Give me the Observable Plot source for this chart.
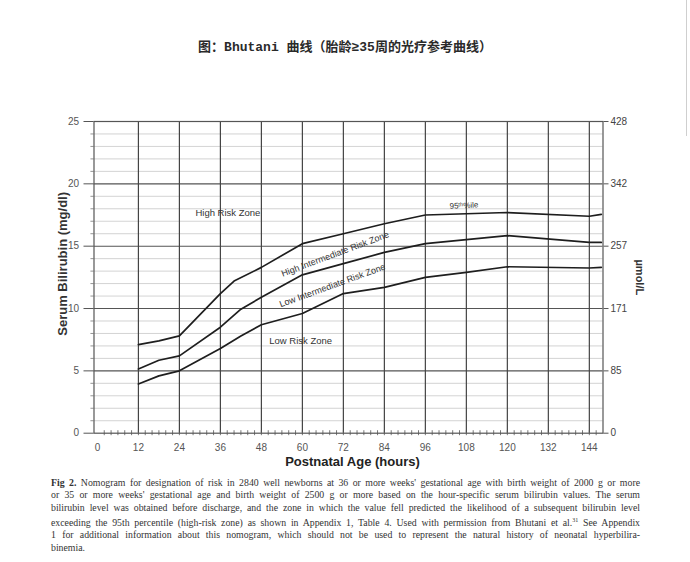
<!DOCTYPE html>
<html>
<head>
<meta charset="utf-8">
<script src="https://cdn.jsdelivr.net/npm/d3@7"></script>
<script src="https://cdn.jsdelivr.net/npm/@observablehq/plot@0.6"></script>
<style>
  html, body { margin: 0; padding: 0; background: #fff; }
  body { width: 690px; height: 562px; position: relative; overflow: hidden; font-family: "Liberation Sans", Arial, sans-serif; }
  #title { position: absolute; top: 40px; left: 0; width: 690px; text-align: center; font: bold 13px/16px "Liberation Mono", "Noto Sans CJK SC", monospace; color: #2a2a2a; }
  #chart { position: absolute; top: 100px; left: 0; }
  #caption { position: absolute; top: 477px; left: 51px; width: 589px; font: 9.8px/12.3px "Liberation Serif", "Times New Roman", serif; color: #333; }
  #caption div { text-align: justify; text-align-last: justify; }
  #caption div.last { text-align-last: left; }
  #edge { position: absolute; left: 686px; top: 0; width: 1px; height: 136px; background: #cfcfcf; }
</style>
</head>
<body>
<div id="title">图：Bhutani 曲线（胎龄≥35周的光疗参考曲线）</div>
<div id="chart"></div>
<div id="caption"></div>
<div id="edge"></div>
<script>
// ---- data ----
const hourTicks = [0, 12, 24, 36, 48, 60, 72, 84, 96, 108, 120, 132, 144];
const mgTicks = [0, 5, 10, 15, 20, 25];
const umolLabels = ["0", "85", "171", "257", "342", "428"];

const p95Hours = [12, 18, 24, 36, 40, 48, 60, 72, 84, 96, 120, 144, 147.5];
const p95Values = [7.1, 7.4, 7.8, 11.2, 12.2, 13.3, 15.2, 16.0, 16.8, 17.5, 17.7, 17.4, 17.55];

const p75Hours = [12, 18, 24, 36, 42, 48, 60, 72, 84, 96, 120, 144, 147.5];
const p75Values = [5.15, 5.85, 6.2, 8.5, 9.95, 10.9, 12.7, 13.6, 14.5, 15.2, 15.85, 15.3, 15.3];

const p40Hours = [12, 18, 24, 36, 42, 48, 60, 72, 84, 96, 108, 120, 144, 147.5];
const p40Values = [3.95, 4.6, 5.0, 6.8, 7.8, 8.7, 9.6, 11.2, 11.7, 12.5, 12.9, 13.35, 13.25, 13.3];

const zoneLabels = [
  {text: "High Risk Zone", h: 38.2, v: 17.64, angle: 0, size: 9.5},
  {text: "95ᵗʰ%ile", h: 107.3, v: 18.26, angle: -3, size: 8},
  {text: "High Intermediate Risk Zone", h: 69.6, v: 14.37, angle: -20.5, size: 9},
  {text: "Low Intermediate Risk Zone", h: 68.8, v: 11.85, angle: -20, size: 9},
  {text: "Low Risk Zone", h: 59.5, v: 7.43, angle: 0, size: 9.5}
];

const captionLines = [
  "<b>Fig 2.</b> Nomogram for designation of risk in 2840 well newborns at 36 or more weeks' gestational age with birth weight of 2000 g or more",
  "or 35 or more weeks' gestational age and birth weight of 2500 g or more based on the hour-specific serum bilirubin values. The serum",
  "bilirubin level was obtained before discharge, and the zone in which the value fell predicted the likelihood of a subsequent bilirubin level",
  "exceeding the 95th percentile (high-risk zone) as shown in Appendix 1, Table 4. Used with permission from Bhutani et al.<sup style=\"font-size:6px\">31</sup> See Appendix",
  "1 for additional information about this nomogram, which should not be used to represent the natural history of neonatal hyperbilira-",
  "binemia."
];

// ---- build ----
const rows = (hs, vs, s) => hs.map((h, i) => ({h, v: vs[i], s}));
const curves = [
  ...rows(p95Hours, p95Values, "p95"),
  ...rows(p75Hours, p75Values, "p75"),
  ...rows(p40Hours, p40Values, "p40")
];
const minorY = d3.range(1, 25).filter(v => v % 5 !== 0);
const majorY = [5, 10, 15, 20];
const gridX = hourTicks.filter(h => h > 0);
const smallTicksX = d3.range(2, 148, 2);

const chart = Plot.plot({
  width: 690,
  height: 376,
  marginTop: 21,
  marginBottom: 43.3,
  marginLeft: 93.5,
  marginRight: 87.5,
  x: {domain: [-1, 148]},
  y: {domain: [0, 25]},
  style: {background: "transparent", fontFamily: "Liberation Sans, Arial, sans-serif"},
  marks: [
    Plot.ruleY(minorY, {stroke: "#c8c8c8", strokeWidth: 0.8}),
    Plot.ruleY(minorY, {x1: -1.9, x2: -1, stroke: "#777", strokeWidth: 0.8}),
    Plot.ruleY(majorY, {stroke: "#555", strokeWidth: 1.1}),
    Plot.ruleX(gridX, {stroke: "#444", strokeWidth: 1.2}),
    Plot.ruleX(smallTicksX, {y1: -0.2, y2: 0.2, stroke: "#555", strokeWidth: 0.8}),
    Plot.frame({stroke: "#555", strokeWidth: 1.2}),
    Plot.axisX({ticks: hourTicks, tickSize: 0, tickPadding: 11, fontSize: 10, fill: "#555", label: null}),
    Plot.axisY({anchor: "left", ticks: mgTicks, tickSize: 10, tickPadding: 5, fontSize: 10, fill: "#555", stroke: "#555", label: null}),
    Plot.axisY({anchor: "right", ticks: mgTicks, tickFormat: d => umolLabels[mgTicks.indexOf(d)], tickSize: 5, tickPadding: 2.5, fontSize: 10, fill: "#444", stroke: "#555", label: null}),
    Plot.line(curves, {x: "h", y: "v", z: "s", stroke: "#1e1e1e", strokeWidth: 1.7, curve: "linear"}),
    ...zoneLabels.map(d => Plot.text([d], {x: "h", y: "v", text: "text", rotate: d.angle, fontSize: d.size, fill: "#333"})),
    Plot.text(["Serum Bilirubin (mg/dl)"], {frameAnchor: "left", textAnchor: "middle", dx: -31.5, dy: -13.5, rotate: -90, fontSize: 13, fontWeight: "bold", fill: "#333"}),
    Plot.text(["µmol/L"], {frameAnchor: "right", textAnchor: "middle", dx: 36.5, dy: 0, rotate: 90, fontSize: 11, fontWeight: "bold", fill: "#333"}),
    Plot.text(["Postnatal Age (hours)"], {frameAnchor: "bottom", dx: 4, dy: 32.3, fontSize: 13, fontWeight: "bold", fill: "#222"})
  ]
});
document.getElementById("chart").appendChild(chart);

const cap = document.getElementById("caption");
captionLines.forEach((t, i) => {
  const el = document.createElement("div");
  el.innerHTML = t;
  if (i === captionLines.length - 1) el.className = "last";
  cap.appendChild(el);
});
</script>
</body>
</html>
